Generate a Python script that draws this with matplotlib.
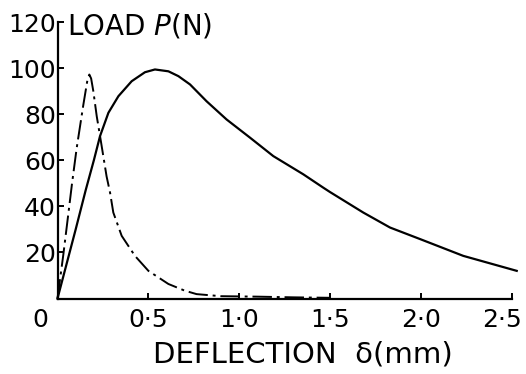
import matplotlib
matplotlib.use("Agg")
import matplotlib.pyplot as plt
from matplotlib.transforms import ScaledTranslation

# solid curve: load vs deflection
solid_x = [0, 0.1, 0.155, 0.2, 0.234, 0.28, 0.335, 0.408, 0.481, 0.536, 0.61, 0.665, 0.729, 0.82,
           0.93, 1.059, 1.187, 1.352, 1.462, 1.499, 1.682, 1.829, 1.994, 2.232, 2.526]
solid_y = [0, 30, 47, 60, 70.5, 80.6, 87.8, 94.3, 98.2, 99.4, 98.6, 96.5, 92.9, 85.6,
           77.7, 69.8, 61.8, 53.9, 48.1, 46.2, 37.3, 30.8, 25.8, 18.5, 12.0]

# dash-dot curve
dash_x = [0, 0.032, 0.06, 0.08, 0.105, 0.142, 0.165, 0.175, 0.185, 0.197, 0.216, 0.234, 0.27,
          0.289, 0.307, 0.353, 0.426, 0.5, 0.61, 0.70, 0.765, 0.9, 1.1, 1.3, 1.5]
dash_y = [0, 19, 37, 50, 65, 84, 95, 97.2, 95.5, 90, 79, 70.5, 53,
          46, 37.3, 27.2, 18.5, 12, 6.3, 3.4, 1.9, 1.0, 0.8, 0.5, 0.3]

x_ticks = [0, 0.5, 1.0, 1.5, 2.0, 2.5]
x_labels = ['0', '0\u00b75', '1\u00b70', '1\u00b75', '2\u00b70', '2\u00b75']
y_ticks = [20, 40, 60, 80, 100, 120]
y_labels = ['20', '40', '60', '80', '100', '120']

fig = plt.figure(figsize=(5.26, 3.74), dpi=100)
ax = fig.add_axes([57.5/526, 75.5/374, 454.5/526, 276.5/374])

ax.plot(solid_x, solid_y, '-', color='black', lw=1.6, clip_on=False)
ax.plot(dash_x, dash_y, color='black', lw=1.4, clip_on=False,
        dashes=[10, 2.5, 1.5, 2.5])

ax.set_xlim(0, 2.5)
ax.set_ylim(0, 120)

for s in ['top', 'right']:
    ax.spines[s].set_visible(False)
for s in ['left', 'bottom']:
    ax.spines[s].set_linewidth(1.6)

ax.set_xticks(x_ticks)
ax.set_xticklabels(x_labels)
ax.set_yticks(y_ticks)
ax.set_yticklabels(y_labels)
ax.tick_params(direction='in', length=4, width=1.4, labelsize=18)
ax.tick_params(axis='x', pad=7)
ax.tick_params(axis='y', pad=1)

# "0" sits left of the origin, "2.5" pulled in from the edge
ticks = ax.xaxis.get_major_ticks()
lab0 = ticks[0].label1
lab0.set_transform(lab0.get_transform() + ScaledTranslation(-0.17, 0, fig.dpi_scale_trans))
lab5 = ticks[-1].label1
lab5.set_transform(lab5.get_transform() + ScaledTranslation(-0.1, 0, fig.dpi_scale_trans))

ax.text(0.02, 0.985, 'LOAD $P$(N)', transform=ax.transAxes, fontsize=20,
        ha='left', va='center')
ax.set_xlabel('DEFLECTION  \u03b4(mm)', fontsize=21, labelpad=6)
ax.xaxis.label.set_x(0.54)

fig.savefig('out.png', dpi=100)
